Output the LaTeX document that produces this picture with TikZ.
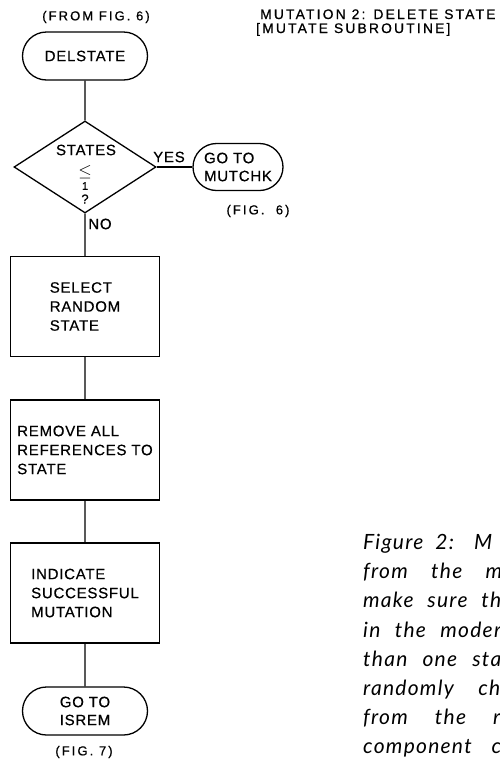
\documentclass[tikz,border=0pt]{standalone}
\usepackage{fontspec}
\usepackage{amssymb}
\usetikzlibrary{shapes.geometric,shapes.misc}
\newfontfamily\chfont[LetterSpace=5,FakeBold=0.5]{Liberation Sans}
\newfontfamily\smfont[LetterSpace=16,FakeBold=0.8]{Liberation Sans}
\newfontfamily\capfont[LetterSpace=6]{Lato}

\begin{document}
\begin{tikzpicture}[x=1pt,y=-1pt]
\tikzset{t/.style={draw,line width=1.3pt,rounded rectangle,minimum width=125pt,minimum height=48pt,inner sep=0pt,align=center,font=\chfont\fontsize{15}{18}\selectfont},
b/.style={draw,line width=1.3pt,rectangle,minimum width=149pt,minimum height=100pt,inner sep=0pt,align=left,font=\chfont\fontsize{15}{19}\selectfont},
w/.style={inner sep=0pt,font=\chfont\fontsize{15}{15}\selectfont},
l/.style={inner sep=0pt,font=\smfont\fontsize{13}{11}\selectfont},
c/.style={inner sep=0pt,anchor=base west,font=\capfont\itshape\fontsize{21}{29}\selectfont}}
\useasboundingbox (0,0) rectangle (500,761);
\clip (0,0) rectangle (500,761);

\node[l] (f6) at (96,17) {(FROM FIG. 6)};
\node[t] (ds) at (85,56) {DELSTATE};
\node[draw,line width=1.3pt,diamond,minimum width=142pt,minimum height=92pt,inner sep=0pt] (d) at (85,167) {};
\node[w] (q1) at (86,150) {STATES};
\node[w,font=\fontsize{17}{17}\selectfont] (q2) at (85,172) {$\leq$};
\node[w,font=\chfont\fontsize{11}{11}\selectfont] (q3) at (85,186) {1};
\node[w,font=\chfont\fontsize{13}{13}\selectfont] (q4) at (85,199) {?};
\node[t,minimum width=90pt,minimum height=47pt,align=left] (mk) at (238,167) {GO TO\\MUTCHK};
\node[l] (g6) at (258,211) {(FIG.\ \ 6)};
\node[w] (yes) at (169,157) {YES};
\node[w] (no) at (100,224) {NO};
\node[b] (b1) at (85,306.5) {SELECT\\RANDOM\\STATE};
\node[b] (b2) at (85,450) {REMOVE ALL\\REFERENCES TO\\STATE};
\node[b] (b3) at (85,593) {INDICATE\\SUCCESSFUL\\MUTATION};
\node[t] (ir) at (85,711) {GO TO\\ISREM};
\node[l] (g7) at (84,752) {(FIG. 7)};
\draw[line width=1.3pt] (ds)--(d)--(b1)--(b2)--(b3)--(ir);
\draw[line width=1.3pt] (d.east)--(mk.west);

\node[l,anchor=base west,font=\smfont\fontsize{13.8}{11}\selectfont] (h1) at (260,19) {MUTATION 2: DELETE STATE};
\node[l,anchor=base west,font=\smfont\fontsize{13.8}{11}\selectfont] (h2) at (256,33) {[MUTATE SUBROUTINE]};

\node[c] (c1) at (363,549) {\makebox[129pt][s]{Figure 2: M}};
\node[c] (c2) at (363,578) {\makebox[139pt][s]{from the m}};
\node[c] (c3) at (363,607) {\makebox[138pt][s]{make sure th}};
\node[c] (c4) at (363,637) {\makebox[138pt][s]{in the moder}};
\node[c] (c5) at (363,666) {\makebox[138pt][s]{than one sta}};
\node[c] (c6) at (363,695) {\makebox[137pt][s]{randomly ch}};
\node[c] (c7) at (363,724) {\makebox[137pt][s]{from the r}};
\node[c] (c8) at (363,753) {\makebox[138pt][s]{component c}};
\end{tikzpicture}
\end{document}
